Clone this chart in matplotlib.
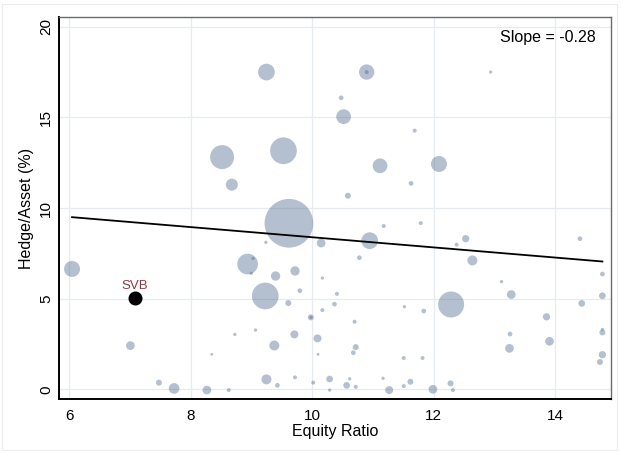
"""
Bubble scatter: hedge/asset ratio against equity ratio, with SVB highlighted
and a fitted line (slope -0.28).
"""

import numpy as np
import matplotlib
matplotlib.use('Agg')
import matplotlib.pyplot as plt
from matplotlib.patches import Rectangle

plt.rcParams['font.family'] = ['Liberation Sans', 'DejaVu Sans']

# ---- Data ------------------------------------------------------------
equity_ratio = [
    9.25, 10.90, 10.90, 10.48, 10.52, 8.52, 9.53, 11.12, 8.68, 10.59,
    11.63, 9.62, 9.24, 10.15, 10.95, 11.18, 10.78, 8.94, 9.03, 9.00,
    9.40, 9.72, 10.17, 9.80, 10.41, 9.23, 9.61, 10.37, 10.17, 11.52,
    12.09, 11.79, 12.53, 12.38, 12.64, 14.41, 14.78, 13.12, 13.28, 14.78,
    14.44, 12.29, 11.84, 12.94, 11.69, 13.86, 13.26, 14.78, 14.78, 13.91,
    13.25, 14.78, 14.74, 11.51, 11.82, 11.51, 11.62, 11.99, 12.28, 12.32,
    9.98, 9.98, 10.70, 8.73, 9.07, 9.71, 9.38, 10.09, 10.72, 10.68,
    10.10, 8.35, 9.25, 9.43, 9.72, 10.02, 10.29, 10.29, 10.62, 10.57,
    10.72, 11.17, 11.27, 8.27, 8.63, 7.01, 7.48, 7.73, 6.05,
]
hedge_asset = [
    17.50, 17.50, 17.50, 16.08, 15.04, 12.81, 13.16, 12.33, 11.29, 10.68,
    11.36, 9.16, 8.11, 8.07, 8.20, 9.01, 7.26, 6.91, 7.22, 6.40,
    6.25, 6.53, 6.14, 5.44, 5.27, 5.15, 4.76, 4.70, 4.37, 4.56,
    12.43, 9.17, 8.31, 7.98, 7.11, 8.31, 6.36, 5.94, 5.23, 5.16,
    4.74, 4.68, 4.32, 17.50, 14.27, 4.00, 3.05, 3.14, 3.31, 2.65,
    2.26, 1.91, 1.51, 1.73, 1.73, 0.18, 0.42, 0.00, 0.33, -0.04,
    3.97, 3.97, 3.73, 3.03, 3.27, 3.03, 2.42, 2.81, 2.33, 2.02,
    1.93, 1.93, 0.55, 0.22, 0.66, 0.37, 0.57, -0.04, 0.58, 0.22,
    0.14, 0.61, -0.04, -0.04, -0.04, 2.41, 0.37, 0.05, 6.64,
]
# bubble weight (proportional to marker area)
weight = [
    280, 235, 16, 22, 216, 576, 713, 216, 144, 36,
    22, 2372, 11, 76, 280, 16, 22, 428, 11, 11,
    87, 87, 11, 22, 16, 713, 36, 22, 16, 11,
    256, 16, 53, 16, 100, 22, 22, 11, 76, 45,
    45, 676, 22, 11, 16, 53, 22, 36, 9, 76,
    76, 53, 36, 16, 16, 16, 36, 76, 36, 16,
    36, 9, 16, 11, 11, 64, 100, 64, 36, 22,
    8, 8, 100, 22, 16, 16, 45, 11, 11, 45,
    16, 11, 64, 76, 16, 76, 36, 114, 256,
]

svb_equity = 7.08
svb_hedge = 5.02

fit_intercept = 11.19
fit_slope = -0.28

x_ticks = [6, 8, 10, 12, 14]
y_ticks = [0, 5, 10, 15, 20]

# ---- Plot ------------------------------------------------------------
fig = plt.figure(figsize=(6.21, 4.53), dpi=100)
fig.patches.append(Rectangle((0.004, 0.006), 0.99, 0.986,
                             transform=fig.transFigure, fill=False,
                             edgecolor='#ececec', lw=0.8))
ax = fig.add_axes([0.0945, 0.1185, 0.8902, 0.8433])

# px diameter squared -> points^2 at 100 dpi
sizes = np.array(weight) * 0.72 ** 2
ax.scatter(equity_ratio, hedge_asset, s=sizes, color='#3c5a82',
           alpha=0.38, linewidths=0, zorder=2)

x_fit = np.array([min(equity_ratio + [svb_equity]), max(equity_ratio)])
ax.plot(x_fit, fit_intercept + fit_slope * x_fit, color='black',
        lw=1.3, zorder=3)

ax.scatter([svb_equity], [svb_hedge], s=(14 * 0.72) ** 2, color='black',
           linewidths=0, zorder=4)
ax.text(svb_equity, svb_hedge + 0.68, 'SVB', color='#8b3a46',
        fontsize=9.5, ha='center', va='center', zorder=4)

ax.text(0.971, 0.947, f'Slope = {fit_slope:.2f}', transform=ax.transAxes,
        ha='right', va='center', fontsize=11.5)

ax.set_xlim(5.83, 14.93)
ax.set_ylim(-0.55, 20.52)
ax.set_xticks(x_ticks)
ax.set_yticks(y_ticks)
ax.tick_params(axis='both', length=0, labelsize=11)
ax.tick_params(axis='x', pad=7)
ax.tick_params(axis='y', pad=4)
for lbl in ax.get_yticklabels():
    lbl.set_rotation(90)
    lbl.set_va('center')

ax.grid(True, color='#e6ebef', lw=0.9, zorder=0)
ax.set_axisbelow(True)

ax.spines['left'].set_color('black')
ax.spines['left'].set_linewidth(1.4)
ax.spines['bottom'].set_color('black')
ax.spines['bottom'].set_linewidth(1.4)
ax.spines['top'].set_color('#6b6b6b')
ax.spines['top'].set_linewidth(1.0)
ax.spines['right'].set_color('#6b6b6b')
ax.spines['right'].set_linewidth(1.0)

ax.set_xlabel('Equity Ratio', fontsize=11.5, labelpad=1)
ax.set_ylabel('Hedge/Asset (%)', fontsize=11.5, labelpad=4)

fig.savefig('out.png', dpi=100)
